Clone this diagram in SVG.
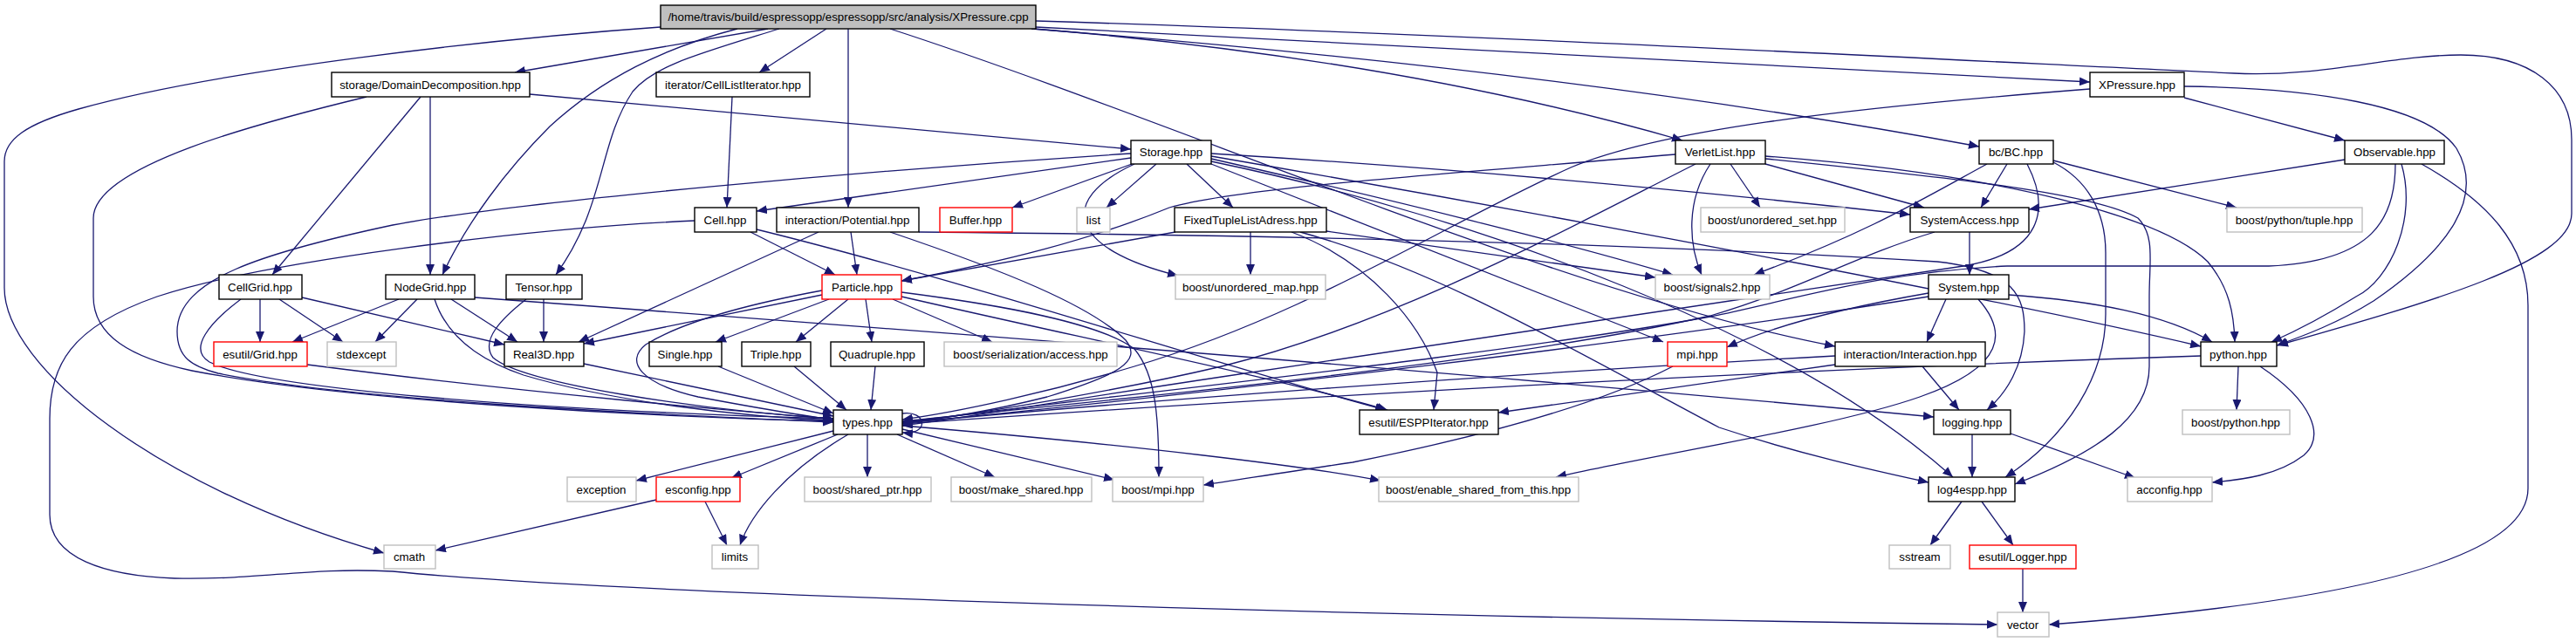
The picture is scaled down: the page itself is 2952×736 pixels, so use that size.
<svg xmlns="http://www.w3.org/2000/svg" width="2952" height="736" viewBox="0 0 2952 736">
<defs>
<marker id="a" markerUnits="userSpaceOnUse" markerWidth="12" markerHeight="10" viewBox="0 0 12 10" refX="12" refY="5" orient="auto"><path d="M0,0 L12,5 L0,10 z" fill="#191970"/></marker>
</defs>
<style>
.e path{fill:none;stroke:#191970;stroke-width:1.3;marker-end:url(#a)}
.n rect{fill:#fff;stroke:#000;stroke-width:1.4}
.g rect{fill:#fff;stroke:#bfbfbf;stroke-width:1.4}
.r rect{fill:#fff;stroke:#ff0000;stroke-width:1.4}
text{font-family:"Liberation Sans",Arial,sans-serif;font-size:13.3px;text-anchor:middle;fill:#000}
</style>
<rect width="2952" height="736" fill="#fff"/>
<g id="edges" class="e">
<path d="M757,31 C560,45 250,80 90,125 C30,142 5,160 5,185 L5,330 C5,420 180,560 440,634"/>
<path d="M880,33 L590,83"/>
<path d="M845,33 C760,55 690,90 630,145 C580,195 535,255 507,315"/>
<path d="M893,33 C800,62 750,75 725,105 C685,165 695,235 637,315"/>
<path d="M947,33 L870,83"/>
<path d="M972,33 L972,238"/>
<path d="M1187,31 L2395,94"/>
<path d="M1182,33 C1500,58 1900,100 2268,168"/>
<path d="M1185,33 C1450,55 1700,95 1928,161"/>
<path d="M1187,24 C1700,40 2300,72 2560,84 C2660,89 2740,63 2820,63 C2900,63 2947,100 2947,160 L2947,245 C2947,300 2790,345 2610,396"/>
<path d="M1020,33 C1350,140 1800,340 2103,397"/>
<path d="M607,108 L1296,171"/>
<path d="M482,111 L312,315"/>
<path d="M493,111 L493,315"/>
<path d="M420,111 C300,140 107,190 107,250 L107,340 C107,385 150,410 220,425 C400,460 750,478 955,483"/>
<path d="M839,111 L833,238"/>
<path d="M2503,112 L2687,161"/>
<path d="M2503,99 C2650,101 2780,120 2815,170 C2850,230 2800,290 2720,345 C2680,370 2640,385 2609,396"/>
<path d="M2395,102 C2100,125 1900,150 1800,192 C1650,260 1500,360 1300,420 C1200,450 1100,472 1034,481"/>
<path d="M1296,181 L867,242"/>
<path d="M1296,176 C1000,195 600,230 450,258 C300,290 203,320 203,380 C203,410 220,420 250,428 C400,458 720,474 955,484"/>
<path d="M1297,188 L1160,238"/>
<path d="M1325,188 L1268,238"/>
<path d="M1360,188 L1413,238"/>
<path d="M1300,188 C1210,230 1225,285 1350,316"/>
<path d="M1388,176 C1700,195 2000,225 2189,246"/>
<path d="M1388,182 C1600,230 1800,280 1917,315"/>
<path d="M1388,188 L1906,392"/>
<path d="M1388,179 C1800,250 2300,345 2522,397"/>
<path d="M1388,185 C1700,250 2050,380 2238,547"/>
<path d="M1920,177 C1650,200 1420,215 1340,238 C1250,275 1150,300 1033,322"/>
<path d="M1983,188 L2017,238"/>
<path d="M2023,188 L2205,238"/>
<path d="M1960,188 C1932,230 1935,280 1950,315"/>
<path d="M1943,188 C1800,260 1600,370 1400,420 C1250,455 1100,476 1034,486"/>
<path d="M2023,179 C2300,200 2480,250 2530,300 C2555,330 2560,360 2561,392"/>
<path d="M2023,182 C2250,205 2400,222 2450,250 C2470,270 2463,300 2463,340 L2463,420 C2463,480 2400,520 2309,555"/>
<path d="M2300,188 L2270,238"/>
<path d="M2277,188 C2200,230 2143,265 2010,315"/>
<path d="M2353,184 L2563,238"/>
<path d="M2353,186 C2390,205 2413,240 2413,290 L2413,360 C2413,430 2370,500 2298,547"/>
<path d="M2323,188 C2350,240 2340,290 2250,305 C2000,340 1700,385 1400,432 C1200,462 1100,480 1034,488"/>
<path d="M2687,183 L2325,240"/>
<path d="M2752,188 C2770,250 2740,320 2700,340 C2660,365 2630,380 2603,392"/>
<path d="M2775,188 C2850,230 2897,280 2897,350 L2897,560 C2897,640 2700,690 2348,716"/>
<path d="M2745,188 C2745,250 2720,300 2600,305 L2300,305 C2150,312 2050,345 1960,363 C1700,410 1300,450 1034,484"/>
<path d="M2257,266 L2257,315"/>
<path d="M2217,266 C2127,293 2060,333 1960,362 C1700,420 1300,455 1034,483"/>
<path d="M2230,343 L2208,392"/>
<path d="M2210,336 C2100,355 2030,375 1979,398"/>
<path d="M2210,340 C1900,390 1400,450 1034,485"/>
<path d="M2302,338 C2400,345 2480,360 2535,392"/>
<path d="M2267,343 C2300,380 2300,420 2200,455 C2100,490 1900,520 1783,547"/>
<path d="M2203,420 L2245,470"/>
<path d="M2103,418 L1717,473"/>
<path d="M2103,408 C1700,430 1300,460 1034,485"/>
<path d="M1917,420 C1830,465 1700,500 1550,530 C1480,540 1420,550 1379,556"/>
<path d="M942,338 L669,394"/>
<path d="M950,343 L820,392"/>
<path d="M972,343 L912,392"/>
<path d="M992,343 L999,392"/>
<path d="M1023,343 L1137,392"/>
<path d="M942,333 C850,350 780,370 740,395 C715,415 735,440 800,455 C880,470 930,478 955,481"/>
<path d="M1033,335 C1150,350 1260,370 1300,400 C1325,430 1328,480 1328,547"/>
<path d="M1033,340 C1250,390 1450,430 1590,470"/>
<path d="M975,266 L982,315"/>
<path d="M938,266 L663,392"/>
<path d="M1053,266 C1500,270 1900,280 2220,300 C2310,310 2320,340 2320,380 C2318,420 2300,450 2277,470"/>
<path d="M1020,266 C1150,310 1250,350 1290,390 C1310,415 1280,430 1200,455 C1120,475 1060,482 1034,484"/>
<path d="M860,266 L957,315"/>
<path d="M867,263 C1100,320 1400,420 1588,470"/>
<path d="M796,253 C600,262 300,300 180,340 C80,375 57,420 57,480 L57,590 C57,640 120,660 200,663 C300,665 350,650 450,655 C700,680 1500,706 2289,716"/>
<path d="M1347,266 L1033,322"/>
<path d="M1433,266 L1433,315"/>
<path d="M1520,265 L1897,318"/>
<path d="M1480,266 C1570,300 1627,370 1647,427 L1643,470"/>
<path d="M1490,266 C1650,310 1800,400 1970,490 C2060,520 2150,540 2210,553"/>
<path d="M298,343 L298,392"/>
<path d="M320,343 L393,392"/>
<path d="M346,341 L578,395"/>
<path d="M276,343 C240,370 215,400 240,415 C300,445 600,470 955,480"/>
<path d="M457,343 L335,392"/>
<path d="M478,343 L430,392"/>
<path d="M517,343 L593,392"/>
<path d="M498,343 C510,380 540,410 600,430 C700,460 850,478 955,482"/>
<path d="M544,341 C1000,375 1600,420 2216,478"/>
<path d="M623,343 L623,392"/>
<path d="M603,343 C575,365 550,390 565,410 C600,440 800,470 955,480"/>
<path d="M352,418 C600,450 850,472 955,480"/>
<path d="M669,417 L955,477"/>
<path d="M823,420 L955,474"/>
<path d="M910,420 L970,470"/>
<path d="M1003,420 L998,470"/>
<path d="M955,494 L729,551"/>
<path d="M960,498 L838,548"/>
<path d="M972,498 C900,540 860,590 848,625"/>
<path d="M994,498 L994,547"/>
<path d="M1028,498 L1140,547"/>
<path d="M1034,492 L1277,550"/>
<path d="M1034,488 C1300,510 1500,535 1582,551"/>
<path d="M1034,474 C1062,470 1066,499 1034,496"/>
<path d="M752,573 L499,631"/>
<path d="M808,575 L833,625"/>
<path d="M2260,498 L2260,547"/>
<path d="M2304,497 L2447,548"/>
<path d="M2565,420 L2563,470"/>
<path d="M2590,420 C2650,460 2665,500 2640,522 C2610,545 2570,550 2535,553"/>
<path d="M2522,408 C2000,425 1400,460 1034,486"/>
<path d="M2248,575 L2212,625"/>
<path d="M2271,575 L2307,625"/>
<path d="M2318,652 L2318,702"/>
</g>
<g id="root"><rect x="757" y="6" width="430" height="27" fill="#bfbfbf" stroke="#000" stroke-width="1.4"/><text x="972" y="24">/home/travis/build/espressopp/espressopp/src/analysis/XPressure.cpp</text></g>
<g id="DD" class="n"><rect x="380" y="83" width="227" height="28"/><text x="493" y="102">storage/DomainDecomposition.hpp</text></g>
<g id="CLI" class="n"><rect x="752" y="83" width="176" height="28"/><text x="840" y="102">iterator/CellListIterator.hpp</text></g>
<g id="XPh" class="n"><rect x="2395" y="83" width="108" height="28"/><text x="2449" y="102">XPressure.hpp</text></g>
<g id="Storage" class="n"><rect x="1296" y="161" width="92" height="27"/><text x="1342" y="179">Storage.hpp</text></g>
<g id="VerletList" class="n"><rect x="1920" y="161" width="103" height="27"/><text x="1971" y="179">VerletList.hpp</text></g>
<g id="BC" class="n"><rect x="2268" y="161" width="85" height="27"/><text x="2310" y="179">bc/BC.hpp</text></g>
<g id="Observable" class="n"><rect x="2687" y="161" width="114" height="27"/><text x="2744" y="179">Observable.hpp</text></g>
<g id="Cell" class="n"><rect x="796" y="238" width="71" height="28"/><text x="831" y="257">Cell.hpp</text></g>
<g id="Potential" class="n"><rect x="890" y="238" width="163" height="28"/><text x="971" y="257">interaction/Potential.hpp</text></g>
<g id="Buffer" class="r"><rect x="1077" y="238" width="83" height="28"/><text x="1118" y="257">Buffer.hpp</text></g>
<g id="list" class="g"><rect x="1234" y="238" width="38" height="28"/><text x="1253" y="257">list</text></g>
<g id="FTLA" class="n"><rect x="1346" y="238" width="174" height="28"/><text x="1433" y="257">FixedTupleListAdress.hpp</text></g>
<g id="uset" class="g"><rect x="1949" y="238" width="165" height="28"/><text x="2031" y="257">boost/unordered_set.hpp</text></g>
<g id="SystemAccess" class="n"><rect x="2189" y="238" width="136" height="28"/><text x="2257" y="257">SystemAccess.hpp</text></g>
<g id="tuple" class="g"><rect x="2552" y="238" width="155" height="28"/><text x="2629" y="257">boost/python/tuple.hpp</text></g>
<g id="CellGrid" class="n"><rect x="251" y="315" width="95" height="28"/><text x="298" y="334">CellGrid.hpp</text></g>
<g id="NodeGrid" class="n"><rect x="442" y="315" width="102" height="28"/><text x="493" y="334">NodeGrid.hpp</text></g>
<g id="Tensor" class="n"><rect x="580" y="315" width="87" height="28"/><text x="623" y="334">Tensor.hpp</text></g>
<g id="Particle" class="r"><rect x="942" y="315" width="91" height="28"/><text x="988" y="334">Particle.hpp</text></g>
<g id="umap" class="g"><rect x="1347" y="315" width="172" height="28"/><text x="1433" y="334">boost/unordered_map.hpp</text></g>
<g id="signals2" class="g"><rect x="1897" y="315" width="131" height="28"/><text x="1962" y="334">boost/signals2.hpp</text></g>
<g id="System" class="n"><rect x="2210" y="315" width="92" height="28"/><text x="2256" y="334">System.hpp</text></g>
<g id="Grid" class="r"><rect x="245" y="392" width="107" height="28"/><text x="298" y="411">esutil/Grid.hpp</text></g>
<g id="stdexcept" class="g"><rect x="375" y="392" width="79" height="28"/><text x="414" y="411">stdexcept</text></g>
<g id="Real3D" class="n"><rect x="578" y="392" width="91" height="28"/><text x="623" y="411">Real3D.hpp</text></g>
<g id="Single" class="n"><rect x="744" y="392" width="83" height="28"/><text x="785" y="411">Single.hpp</text></g>
<g id="Triple" class="n"><rect x="850" y="392" width="79" height="28"/><text x="889" y="411">Triple.hpp</text></g>
<g id="Quadruple" class="n"><rect x="952" y="392" width="107" height="28"/><text x="1005" y="411">Quadruple.hpp</text></g>
<g id="serialization" class="g"><rect x="1082" y="392" width="198" height="28"/><text x="1181" y="411">boost/serialization/access.hpp</text></g>
<g id="mpi" class="r"><rect x="1911" y="392" width="68" height="28"/><text x="1945" y="411">mpi.hpp</text></g>
<g id="Interaction" class="n"><rect x="2103" y="392" width="172" height="28"/><text x="2189" y="411">interaction/Interaction.hpp</text></g>
<g id="python" class="n"><rect x="2522" y="392" width="87" height="28"/><text x="2565" y="411">python.hpp</text></g>
<g id="types" class="n"><rect x="955" y="470" width="79" height="28"/><text x="994" y="489">types.hpp</text></g>
<g id="ESPPIterator" class="n"><rect x="1558" y="470" width="159" height="28"/><text x="1637" y="489">esutil/ESPPIterator.hpp</text></g>
<g id="logging" class="n"><rect x="2216" y="470" width="88" height="28"/><text x="2260" y="489">logging.hpp</text></g>
<g id="bpython" class="g"><rect x="2501" y="470" width="123" height="28"/><text x="2562" y="489">boost/python.hpp</text></g>
<g id="exception" class="g"><rect x="650" y="547" width="79" height="28"/><text x="689" y="566">exception</text></g>
<g id="esconfig" class="r"><rect x="752" y="547" width="96" height="28"/><text x="800" y="566">esconfig.hpp</text></g>
<g id="shared_ptr" class="g"><rect x="922" y="547" width="145" height="28"/><text x="994" y="566">boost/shared_ptr.hpp</text></g>
<g id="make_shared" class="g"><rect x="1090" y="547" width="161" height="28"/><text x="1170" y="566">boost/make_shared.hpp</text></g>
<g id="bmpi" class="g"><rect x="1275" y="547" width="104" height="28"/><text x="1327" y="566">boost/mpi.hpp</text></g>
<g id="enable" class="g"><rect x="1580" y="547" width="229" height="28"/><text x="1694" y="566">boost/enable_shared_from_this.hpp</text></g>
<g id="log4espp" class="n"><rect x="2210" y="547" width="99" height="28"/><text x="2260" y="566">log4espp.hpp</text></g>
<g id="acconfig" class="g"><rect x="2438" y="547" width="97" height="28"/><text x="2486" y="566">acconfig.hpp</text></g>
<g id="cmath" class="g"><rect x="440" y="625" width="59" height="27"/><text x="469" y="643">cmath</text></g>
<g id="limits" class="g"><rect x="816" y="625" width="53" height="27"/><text x="842" y="643">limits</text></g>
<g id="sstream" class="g"><rect x="2165" y="625" width="70" height="27"/><text x="2200" y="643">sstream</text></g>
<g id="Logger" class="r"><rect x="2257" y="625" width="122" height="27"/><text x="2318" y="643">esutil/Logger.hpp</text></g>
<g id="vector" class="g"><rect x="2289" y="702" width="59" height="28"/><text x="2318" y="721">vector</text></g>
</svg>
